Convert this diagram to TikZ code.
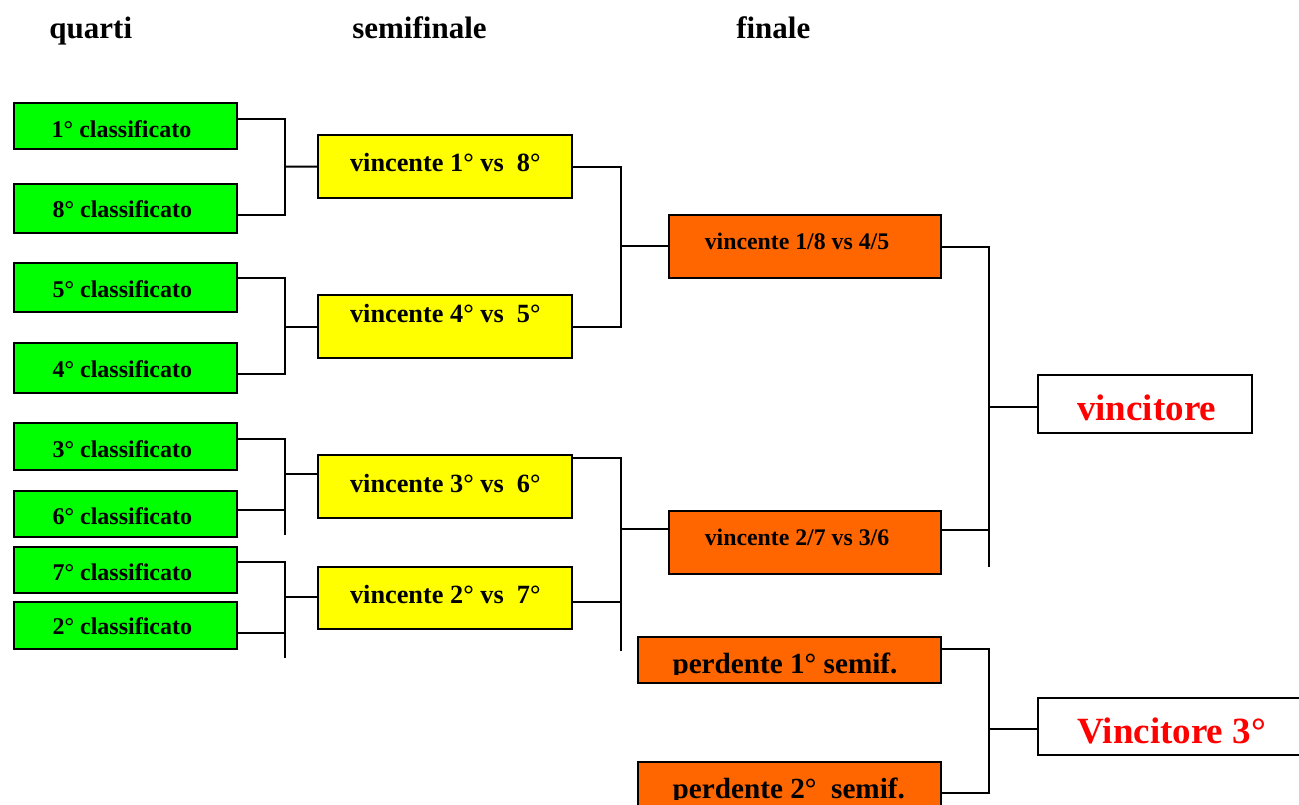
\documentclass[tikz,border=0pt]{standalone}
\usepackage{fontspec}
\setmainfont{Liberation Serif}
\usetikzlibrary{calc}
\definecolor{gr}{RGB}{0,255,0}
\definecolor{ye}{RGB}{255,255,0}
\definecolor{orng}{RGB}{255,102,0}
\definecolor{rd}{RGB}{255,0,0}
\tikzset{
 box/.style={draw=black, line width=2pt, inner sep=0pt, outer sep=0pt, rectangle},
 gbox/.style={box, fill=gr, minimum width=223pt},
 ybox/.style={box, fill=ye, minimum width=254.6pt},
 obox/.style={box, fill=orng},
 wbox/.style={box, fill=white},
 lbl/.style={anchor=base, inner sep=0pt},
 sl/.style={lbl, yshift=-2pt},
 hdr/.style={sl, font=\fontsize{31}{36}\selectfont\bfseries},
 qt/.style={sl, font=\fontsize{24}{28}\selectfont\bfseries},
 yt/.style={sl, font=\fontsize{26.3}{30}\selectfont\bfseries},
 ft/.style={sl, font=\fontsize{23.8}{28}\selectfont\bfseries},
 pt/.style={lbl, font=\fontsize{29.2}{34}\selectfont\bfseries},
 wt/.style={sl, text=rd, font=\fontsize{37}{42}\selectfont\bfseries},
 conn/.style={line width=2pt, black}
}
\begin{document}
\begin{tikzpicture}[x=1pt,y=-1pt]
\useasboundingbox (0,0) rectangle (1299,805);
\clip (0,0) rectangle (1299,805);

% headers
\node[hdr] (h1) at (90.8,36.7) {quarti};
\node[hdr] (h2) at (419.5,36.7) {semifinale};
\node[hdr] (h3) at (773.3,36.7) {finale};

% quarti
\node[gbox, minimum height=45.7pt] (q1) at (125,126.15) {};
\node[gbox, minimum height=49.3pt] (q8) at (125,208.35) {};
\node[gbox, minimum height=49pt]   (q5) at (125,287.8) {};
\node[gbox, minimum height=49.7pt] (q4) at (125,368.15) {};
\node[gbox, minimum height=46.7pt] (q3) at (125,446.65) {};
\node[gbox, minimum height=46.3pt] (q6) at (125,514.15) {};
\node[gbox, minimum height=46.3pt] (q7) at (125,569.85) {};
\node[gbox, minimum height=47pt]   (q2) at (125,625.5) {};
\node[qt] (q1t) at (121.5,135.7) {1° classificato};
\node[qt] (q8t) at (122.3,216) {8° classificato};
\node[qt] (q5t) at (122.3,295.7) {5° classificato};
\node[qt] (q4t) at (122.3,375.7) {4° classificato};
\node[qt] (q3t) at (122.3,455.7) {3° classificato};
\node[qt] (q6t) at (122.3,522.7) {6° classificato};
\node[qt] (q7t) at (122.3,578.3) {7° classificato};
\node[qt] (q2t) at (122.3,632.7) {2° classificato};

% semifinali
\node[ybox, minimum height=62.7pt] (s18) at (445,166.65) {};
\node[ybox, minimum height=63pt]   (s45) at (445,326.5) {};
\node[ybox, minimum height=63pt]   (s36) at (445,486.5) {};
\node[ybox, minimum height=62.3pt] (s27) at (445,597.85) {};
\node[yt] (s18t) at (445.3,170) {vincente 1° vs\ \ 8°};
\node[yt] (s45t) at (445.3,320) {vincente 4° vs\ \ 5°};
\node[yt] (s36t) at (445.3,490) {vincente 3° vs\ \ 6°};
\node[yt] (s27t) at (445.3,601.7) {vincente 2° vs\ \ 7°};

% finali
\node[obox, minimum width=271.4pt, minimum height=62.7pt] (f18) at (805,246.65) {};
\node[obox, minimum width=271.4pt, minimum height=62.7pt] (f27) at (805,542.35) {};
\node[ft] (f18t) at (797,247.7) {vincente 1/8 vs 4/5};
\node[ft] (f27t) at (797,543.3) {vincente 2/7 vs 3/6};

\node[obox, minimum width=303pt, minimum height=46pt] (p1) at (789.2,660) {};
\node[obox, minimum width=303pt, minimum height=68pt] (p2) at (789.2,796) {};
\begin{scope}
\clip ([shift={(1,1)}]p1.north west) rectangle ([shift={(-1,0)}]p1.east |- 0,674.5);
\node[pt] (p1t) at (785,673.5) {perdente 1° semif.};
\end{scope}
\begin{scope}
\clip ([shift={(1,1)}]p2.north west) rectangle ([shift={(-1,0)}]p2.east |- 0,799.5);
\node[pt] (p2t) at (788.8,798.5) {perdente 2°\ \ semif.};
\end{scope}

% vincitori
\node[wbox, minimum width=214.6pt, minimum height=58pt] (w) at (1145,404) {};
\node[wt] (wtx) at (1146.7,418.3) {vincitore};
\node[wbox, minimum width=282.3pt, minimum height=57.3pt] (w3) at (1178.85,726.35) {};
\node[wt] (w3tx) at (1171.7,741.7) {Vincitore 3°};

% connectors quarti -> semifinali
\coordinate (b1) at (285,166.7);
\draw[conn] ([yshift=7.45pt]q1.east) -| (b1) |- ([yshift=-6.35pt]q8.east);
\draw[conn] (b1) -- (s18.west);
\coordinate (b2) at (285,326.7);
\draw[conn] ([yshift=9.5pt]q5.east) -| (b2) |- ([yshift=-5.85pt]q4.east);
\draw[conn] (b2) -- (b2 -| s45.west);
\coordinate (b3) at (285,474.3);
\coordinate (e3) at (285,535);
\draw[conn] ([yshift=7.95pt]q3.east) -| (e3);
\draw[conn] ([yshift=4.15pt]q6.east) -- ([yshift=4.15pt]q6.east -| e3);
\draw[conn] (b3) -- (b3 -| s36.west);
\coordinate (b4) at (285,597.3);
\coordinate (e4) at (285,658);
\draw[conn] ([yshift=8.15pt]q7.east) -| (e4);
\draw[conn] ([yshift=-7.8pt]q2.east) -- ([yshift=-7.8pt]q2.east -| e4);
\draw[conn] (b4) -- (b4 -| s27.west);

% connectors semifinali -> finali
\coordinate (c1) at (621,246);
\draw[conn] (s18.east) -| (c1) |- (s45.east);
\draw[conn] (c1) -- (c1 -| f18.west);
\coordinate (c2) at (621,529.3);
\coordinate (e5) at (621,650.7);
\draw[conn] ([yshift=28.2pt]s36.east) -| (e5);
\draw[conn] ([yshift=-3.85pt]s27.east) -- ([yshift=-3.85pt]s27.east -| e5);
\draw[conn] (c2) -- (c2 -| f27.west);

% connectors finali -> vincitore
\coordinate (d1) at (989.3,406.7);
\coordinate (e6) at (989.3,566.7);
\draw[conn] (f18.east) -| (e6);
\draw[conn] ([yshift=12.35pt]f27.east) -- ([yshift=12.35pt]f27.east -| e6);
\draw[conn] (d1) -- (d1 -| w.west);

% connectors perdenti -> vincitore 3
\coordinate (d2) at (989.3,729);
\draw[conn] ([yshift=10.7pt]p1.east) -| (d2) |- ([yshift=2.7pt]p2.east);
\draw[conn] (d2) -- (d2 -| w3.west);
\end{tikzpicture}
\end{document}
